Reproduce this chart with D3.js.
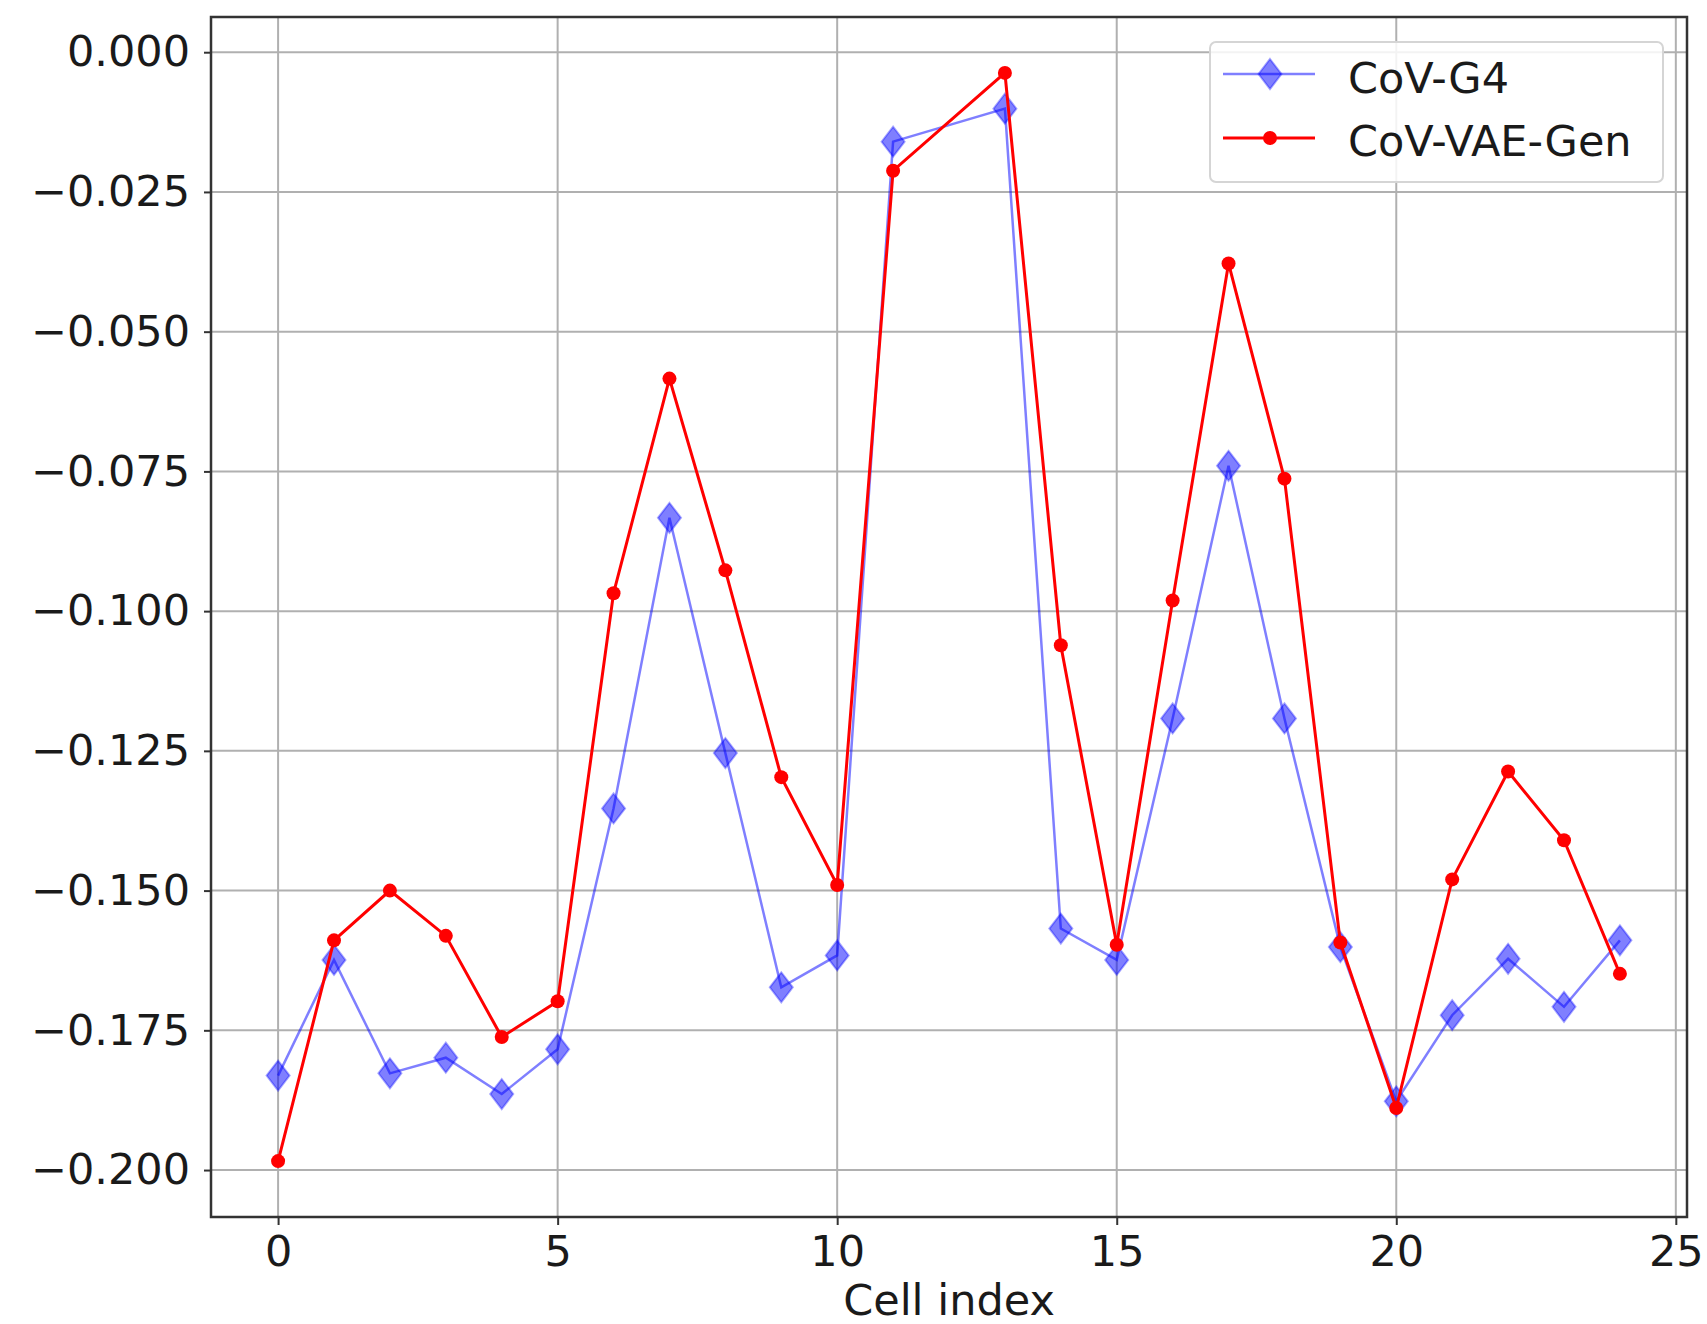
<!DOCTYPE html>
<html>
<head>
<meta charset="utf-8">
<script src="https://cdn.jsdelivr.net/npm/d3@7"></script>
<style>
  html, body { margin: 0; padding: 0; background: #fff; }
  svg text { font-family: "DejaVu Sans", sans-serif; fill: #1a1a1a; }
</style>
</head>
<body>
<div id="chart"></div>
<script>
// cell 12 is not in the plot
const cellIndex = [0, 1, 2, 3, 4, 5, 6, 7, 8, 9, 10, 11, 13, 14, 15, 16, 17, 18, 19, 20, 21, 22, 23, 24];
const covG4 = [-0.1831, -0.1624, -0.1827, -0.1799, -0.1864, -0.1784, -0.1353, -0.0833, -0.1254, -0.1673, -0.1616, -0.0160,
  -0.0101, -0.1568, -0.1624, -0.1192, -0.0740, -0.1192, -0.1601, -0.1877, -0.1723, -0.1622, -0.1708, -0.1589];
const covVaeGen = [-0.1984, -0.1589, -0.1500, -0.1581, -0.1762, -0.1698, -0.0968, -0.0584, -0.0927, -0.1297, -0.1490, -0.0212,
  -0.0037, -0.1061, -0.1597, -0.0981, -0.0378, -0.0763, -0.1593, -0.1889, -0.1480, -0.1287, -0.1410, -0.1649];
const xTicks = [0, 5, 10, 15, 20, 25];
const yTicks = [0, -0.025, -0.05, -0.075, -0.1, -0.125, -0.15, -0.175, -0.2];
const seriesNames = ["CoV-G4", "CoV-VAE-Gen"];

const width = 1707, height = 1324;
const margin = { top: 17, right: 20, bottom: 107, left: 211 };
const w = width - margin.left - margin.right;
const h = height - margin.top - margin.bottom;

const svg = d3.select("#chart").append("svg")
  .attr("width", width)
  .attr("height", height);
const g = svg.append("g").attr("transform", `translate(${margin.left},${margin.top})`);

const x = d3.scaleLinear().domain([-1.2, 25.2]).range([0, w]);
const y = d3.scaleLinear().domain([-0.2084, 0.0063]).range([h, 0]);

// grid
g.append("g")
  .selectAll("line.vgrid")
  .data(xTicks)
  .enter().append("line")
  .attr("x1", d => x(d)).attr("x2", d => x(d))
  .attr("y1", 0).attr("y2", h)
  .attr("stroke", "#b0b0b0").attr("stroke-width", 2);
g.append("g")
  .selectAll("line.hgrid")
  .data(yTicks)
  .enter().append("line")
  .attr("y1", d => y(d)).attr("y2", d => y(d))
  .attr("x1", 0).attr("x2", w)
  .attr("stroke", "#b0b0b0").attr("stroke-width", 2);

// axes
const fmtY = d => d === 0 ? "0.000" : "\u2212" + d3.format(".3f")(-d);
const xAxis = g.append("g")
  .attr("transform", `translate(0,${h})`)
  .call(d3.axisBottom(x).tickValues(xTicks).tickSize(8).tickPadding(10).tickFormat(d3.format("d")));
const yAxis = g.append("g")
  .call(d3.axisLeft(y).tickValues(yTicks).tickSize(7).tickPadding(14).tickFormat(fmtY));
[xAxis, yAxis].forEach(ax => {
  ax.select(".domain").remove();
  ax.selectAll(".tick line").attr("stroke", "#333").attr("stroke-width", 2);
  ax.selectAll(".tick text")
    .style("font-size", "43px")
    .attr("fill", "#1a1a1a");
});

// frame
g.append("rect")
  .attr("x", 0).attr("y", 0).attr("width", w).attr("height", h)
  .attr("fill", "none").attr("stroke", "#333").attr("stroke-width", 2.5);

// CoV-G4 line + diamonds
const line = vals => d3.line()
  .x((d, i) => x(cellIndex[i]))
  .y(d => y(d))(vals);

const diamond = "M0,-15L11.5,0L0,15L-11.5,0Z";

g.append("path")
  .attr("d", line(covG4))
  .attr("fill", "none")
  .attr("stroke", "#0000ff")
  .attr("stroke-opacity", 0.5)
  .attr("stroke-width", 2.5);

g.selectAll("path.g4")
  .data(covG4)
  .enter().append("path")
  .attr("class", "g4")
  .attr("d", diamond)
  .attr("transform", (d, i) => `translate(${x(cellIndex[i])},${y(d)})`)
  .attr("fill", "#0000ff")
  .attr("fill-opacity", 0.5)
  .attr("stroke", "#0000ff")
  .attr("stroke-opacity", 0.35)
  .attr("stroke-width", 2);

// CoV-VAE-Gen line + dots
g.append("path")
  .attr("d", line(covVaeGen))
  .attr("fill", "none")
  .attr("stroke", "#ff0000")
  .attr("stroke-width", 3);

g.selectAll("circle.vae")
  .data(covVaeGen)
  .enter().append("circle")
  .attr("class", "vae")
  .attr("cx", (d, i) => x(cellIndex[i]))
  .attr("cy", d => y(d))
  .attr("r", 7)
  .attr("fill", "#ff0000");

// x label
g.append("text")
  .attr("x", w / 2)
  .attr("y", h + 98)
  .attr("text-anchor", "middle")
  .style("font-size", "43px")
  .text("Cell index");

// legend
const lg = svg.append("g").attr("transform", "translate(1210,42)");
lg.append("rect")
  .attr("width", 453).attr("height", 140)
  .attr("rx", 6)
  .attr("fill", "#fff").attr("fill-opacity", 0.85)
  .attr("stroke", "#d5d5d5").attr("stroke-width", 2);

const row1 = lg.append("g").attr("transform", "translate(0,32)");
row1.append("line")
  .attr("x1", 13).attr("x2", 105)
  .attr("stroke", "#0000ff").attr("stroke-opacity", 0.5).attr("stroke-width", 2.5);
row1.append("path")
  .attr("d", diamond)
  .attr("transform", "translate(60,0)")
  .attr("fill", "#0000ff").attr("fill-opacity", 0.5)
  .attr("stroke", "#0000ff").attr("stroke-opacity", 0.35).attr("stroke-width", 2);
row1.append("text")
  .attr("x", 138).attr("y", 4).attr("dy", "0.36em")
  .style("font-size", "43px")
  .text(seriesNames[0]);

const row2 = lg.append("g").attr("transform", "translate(0,96)");
row2.append("line")
  .attr("x1", 13).attr("x2", 105)
  .attr("stroke", "#ff0000").attr("stroke-width", 3);
row2.append("circle")
  .attr("cx", 60).attr("r", 7)
  .attr("fill", "#ff0000");
row2.append("text")
  .attr("x", 138).attr("y", 3).attr("dy", "0.36em")
  .style("font-size", "43px")
  .text(seriesNames[1]);
</script>
</body>
</html>
